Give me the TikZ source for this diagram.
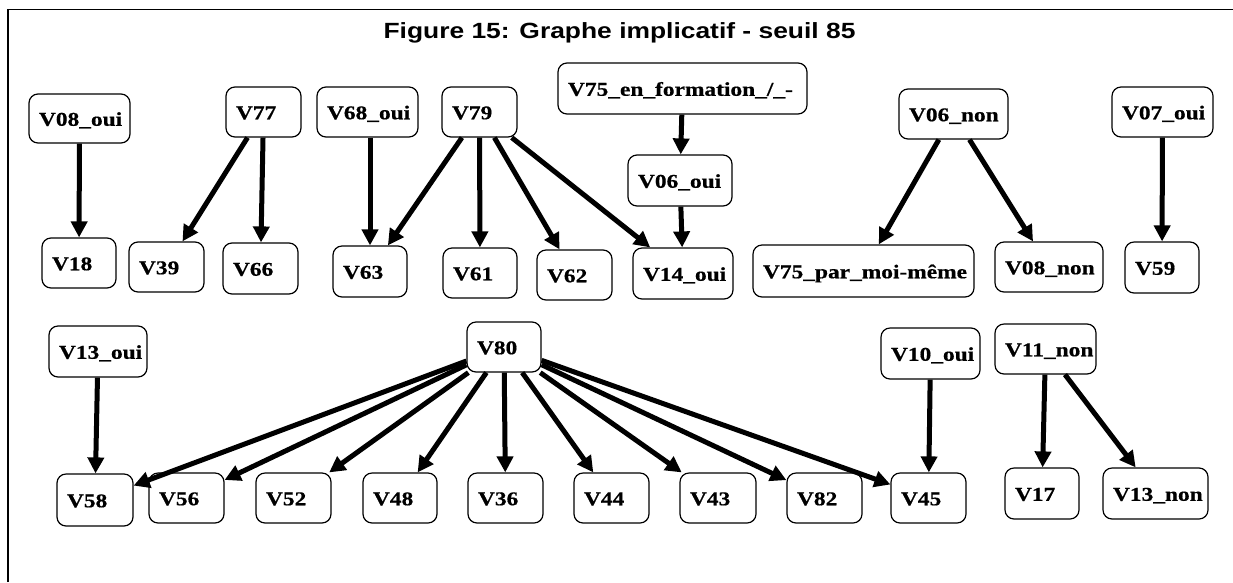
\documentclass[tikz,border=0pt]{standalone}
\usepackage{fontspec}
\usetikzlibrary{arrows.meta}
\newfontfamily\nodefont[FakeStretch=1.2, BoldFeatures={FakeBold=0.6}]{Liberation Serif}
\newfontfamily\titlefont[FakeStretch=1.2]{Liberation Sans}
\tikzset{
  vbox/.style={draw=black, line width=1.2pt, rounded corners=9pt,
    font=\nodefont\bfseries\fontsize{19.5pt}{21pt}\selectfont,
    align=left, inner xsep=10pt, inner ysep=0pt, text height=14.5pt, text depth=0pt,
    minimum height=50pt},
  imp/.style={line width=5pt, -{Triangle[length=16pt,width=16pt]}},
  frameline/.style={line width=1.5pt}
}
\begin{document}
\begin{tikzpicture}[x=1pt,y=-1pt]
\fill[white] (0,0) rectangle (1233,582);
\useasboundingbox (0,0) rectangle (1233,582);
\draw[frameline] (8,582) -- (8,9.5) -- (1233,9.5);
\node[font=\titlefont\bfseries\fontsize{22pt}{24pt}\selectfont, anchor=base] (title) at (619.5,38) {Figure 15: Graphe implicatif - seuil 85};
% row 1
\node[vbox, text width=81pt, minimum height=49pt] (v08oui) at (79.5,118.5) {\mbox{V08\_oui}};
\node[vbox, text width=55pt] (v77) at (263.5,112) {V77};
\node[vbox, text width=81pt] (v68oui) at (367.5,112) {\mbox{V68\_oui}};
\node[vbox, text width=55pt] (v79) at (479.5,112) {V79};
\node[vbox, text width=229pt, minimum height=51pt] (v75f) at (682.5,88.5) {\mbox{V75\_en\_formation\_/\_-}};
\node[vbox, text width=84pt, minimum height=51pt] (v06oui) at (680,180.5) {\mbox{V06\_oui}};
\node[vbox, text width=89pt] (v06non) at (953.5,114) {\mbox{V06\_non}};
\node[vbox, text width=81pt] (v07oui) at (1162.5,112) {\mbox{V07\_oui}};
% row 2
\node[vbox, text width=54pt] (v18) at (79,263) {V18};
\node[vbox, text width=55pt] (v39) at (166.5,267) {V39};
\node[vbox, text width=55pt, minimum height=51pt] (v66) at (260.5,268.5) {V66};
\node[vbox, text width=54pt, minimum height=51pt] (v63) at (370,271.5) {V63};
\node[vbox, text width=54pt] (v61) at (480,273) {V61};
\node[vbox, text width=55pt] (v62) at (574.5,275) {V62};
\node[vbox, text width=80pt, minimum height=51pt] (v14oui) at (683,273.5) {\mbox{V14\_oui}};
\node[vbox, text width=201pt, minimum height=52pt] (v75p) at (863.5,271) {\mbox{V75\_par\_moi-même}};
\node[vbox, text width=88pt] (v08non) at (1049,267) {\mbox{V08\_non}};
\node[vbox, text width=54pt, minimum height=51pt] (v59) at (1162,267.5) {V59};
% row 3
\node[vbox, text width=78pt, minimum height=51pt] (v13oui) at (98,351.5) {\mbox{V13\_oui}};
\node[vbox, text width=54pt] (v80) at (504,347) {V80};
\node[vbox, text width=79pt, minimum height=51pt] (v10oui) at (930.5,353.5) {\mbox{V10\_oui}};
\node[vbox, text width=81pt] (v11non) at (1045.5,349) {\mbox{V11\_non}};
% row 4
\node[vbox, text width=56pt, minimum height=52pt] (v58) at (95,500) {V58};
\node[vbox, text width=55pt] (v56) at (186.5,498) {V56};
\node[vbox, text width=55pt] (v52) at (293.5,498) {V52};
\node[vbox, text width=54pt] (v48) at (400,498) {V48};
\node[vbox, text width=55pt] (v36) at (505.5,498) {V36};
\node[vbox, text width=55pt] (v44) at (611.5,498) {V44};
\node[vbox, text width=56pt] (v43) at (718,498) {V43};
\node[vbox, text width=55pt] (v82) at (824.5,498) {V82};
\node[vbox, text width=55pt] (v45) at (928.5,498) {V45};
\node[vbox, text width=54pt, minimum height=51pt] (v17) at (1042,493.5) {V17};
\node[vbox, text width=85pt, minimum height=51pt] (v13non) at (1155.5,493.5) {\mbox{V13\_non}};
% edges
\draw[imp] (v08oui) -- (v18);
\draw[imp] (v77) -- (v39);
\draw[imp] (v77) -- (v66);
\draw[imp] (v68oui.south -| v63.north) -- (v63.north);
\draw[imp] (v79) -- (v63);
\draw[imp] (v79) -- (v61);
\draw[imp] (v79) -- (v62);
\draw[imp] (v79) -- (v14oui);
\draw[imp] (v75f) -- (v06oui);
\draw[imp] (v06oui) -- (v14oui);
\draw[imp] (v06non) -- (v75p);
\draw[imp] (v06non) -- (v08non);
\draw[imp] (v07oui) -- (v59);
\draw[imp] (v13oui) -- (v58);
\draw[imp] (v80) -- (v58);
\draw[imp] (v80) -- (v56);
\draw[imp] (v80) -- (v52);
\draw[imp] (v80) -- (v48);
\draw[imp] (v80) -- (v36);
\draw[imp] (v80) -- (v44);
\draw[imp] (v80) -- (v43);
\draw[imp] (v80) -- (v82);
\draw[imp] (v80) -- (v45);
\draw[imp] (v10oui) -- (v45);
\draw[imp] (v11non) -- (v17);
\draw[imp] (v11non) -- (v13non);
\end{tikzpicture}
\end{document}
